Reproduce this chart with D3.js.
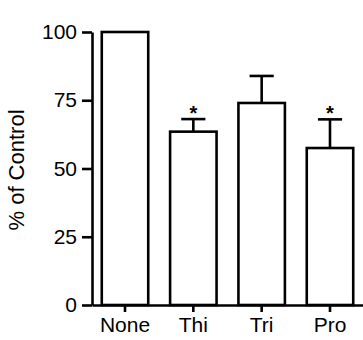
<!DOCTYPE html>
<html>
<head>
<meta charset="utf-8">
<script src="https://cdn.jsdelivr.net/npm/d3@7"></script>
<style>
html,body{margin:0;padding:0;background:#fff;}
svg{display:block;}
</style>
</head>
<body>
<svg id="chart" width="363" height="340"></svg>
<script>
const categories = ["None", "Thi", "Tri", "Pro"];
const means = [100, 63.5, 74, 57.5];
const errors = [0, 4.6, 9.9, 10.5];
const significant = [false, true, false, true];
const yTicks = [0, 25, 50, 75, 100];

const svg = d3.select("#chart");
const font = "Arial, 'Liberation Sans', sans-serif";
const sw = 2.6;

const x = d3.scaleBand().domain(categories).range([92, 363]).paddingInner(0.32).paddingOuter(0.143);
const y = d3.scaleLinear().domain([0, 100]).range([305, 32]);

// bars
svg.selectAll("rect.bar").data(categories).enter().append("rect")
  .attr("x", d => x(d)).attr("width", x.bandwidth())
  .attr("y", (d,i) => y(means[i])).attr("height", (d,i) => y(0) - y(means[i]))
  .attr("fill", "#fff").attr("stroke", "#000").attr("stroke-width", sw);

// error bars
const capW = x.bandwidth() * 0.52;
categories.forEach((c, i) => {
  if (errors[i] <= 0) return;
  const cx = x(c) + x.bandwidth() / 2;
  svg.append("line").attr("x1", cx).attr("x2", cx)
    .attr("y1", y(means[i])).attr("y2", y(means[i] + errors[i]))
    .attr("stroke", "#000").attr("stroke-width", sw);
  svg.append("line").attr("x1", cx - capW/2).attr("x2", cx + capW/2)
    .attr("y1", y(means[i] + errors[i])).attr("y2", y(means[i] + errors[i]))
    .attr("stroke", "#000").attr("stroke-width", sw);
  if (significant[i]) {
    svg.append("text").attr("x", cx).attr("y", y(means[i] + errors[i]) + 0.5)
      .attr("text-anchor", "middle").attr("font-family", font)
      .attr("font-size", 20).attr("font-weight", "bold").text("*");
  }
});

// y axis
const yAxis = svg.append("g").attr("transform", "translate(92,0)")
  .call(d3.axisLeft(y).tickValues(yTicks).tickSize(10).tickPadding(5).tickSizeOuter(0));
yAxis.selectAll("path,line").attr("stroke", "#000").attr("stroke-width", sw);
yAxis.selectAll("text").attr("font-family", font).attr("font-size", 21).attr("fill", "#000");

// x axis
const xAxis = svg.append("g").attr("transform", "translate(0,305)")
  .call(d3.axisBottom(x).tickSize(7).tickPadding(5).tickSizeOuter(0));
xAxis.selectAll("path,line").attr("stroke", "#000").attr("stroke-width", sw);
xAxis.selectAll("text").attr("font-family", font).attr("font-size", 21).attr("fill", "#000");

// y label
svg.append("text").attr("transform", "translate(24,170) rotate(-90)")
  .attr("text-anchor", "middle").attr("font-family", font).attr("font-size", 22)
  .attr("fill", "#000").text("% of Control");
</script>
</body>
</html>
